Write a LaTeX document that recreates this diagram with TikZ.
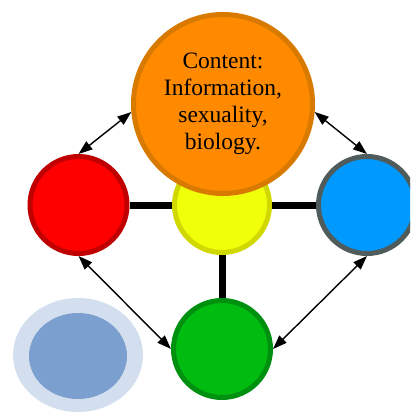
\documentclass[tikz,border=0pt]{standalone}
\usepackage{fontspec}
\setmainfont{Liberation Serif}
\usetikzlibrary{arrows.meta}
\definecolor{orangefill}{RGB}{255,138,0}
\definecolor{orangeedge}{RGB}{217,122,0}
\definecolor{redfill}{RGB}{255,0,0}
\definecolor{rededge}{RGB}{192,0,0}
\definecolor{yellowfill}{RGB}{240,255,10}
\definecolor{yellowedge}{RGB}{208,216,0}
\definecolor{bluefill}{RGB}{0,153,255}
\definecolor{blueedge}{RGB}{80,92,92}
\definecolor{greenfill}{RGB}{0,187,16}
\definecolor{greenedge}{RGB}{0,144,16}
\definecolor{paleblue}{RGB}{211,223,238}
\definecolor{midblue}{RGB}{123,160,207}
\begin{document}
\begin{tikzpicture}[x=1pt, y=-1pt,
    ball/.style={circle, draw, line width=5pt, inner sep=0pt, minimum size=97pt},
    bar/.style={line width=7pt},
    twoway/.style={{Triangle[length=14pt,width=10pt]}-{Triangle[length=14pt,width=10pt]}, line width=1.4pt}]
            \useasboundingbox (0,0) rectangle (410,412);
            \clip (0,0) rectangle (410,412);

            \fill[paleblue] (78,355) ellipse [x radius=65, y radius=57];
            \fill[midblue] (78,356) ellipse [x radius=49, y radius=43];

            \node (yellow) at (222,205) [ball, draw=yellowedge, fill=yellowfill, minimum size=95pt] {};
            \node (orange) at (223,104) [ball, draw=orangeedge, fill=orangefill, minimum size=179pt, align=center, font=\fontsize{23.5}{27}\selectfont] {Content:\\Information,\\sexuality,\\biology.};
            \node (red) at (78.5,205) [ball, draw=rededge, fill=redfill] {};
            \node (blue) at (367,205) [ball, draw=blueedge, fill=bluefill] {};
            \node (green) at (222,349) [ball, draw=greenedge, fill=greenfill] {};

            \draw[bar] (red) -- (yellow);
            \draw[bar] (yellow) -- (blue);
            \draw[bar] (yellow) -- (green);

            \draw[twoway] (orange.185) -- (red.north);
            \draw[twoway] (orange.355) -- (blue.north);
            \draw[twoway] (red.south) -- (green.west);
            \draw[twoway] (blue.south) -- (green.east);
        \end{tikzpicture}
\end{document}
